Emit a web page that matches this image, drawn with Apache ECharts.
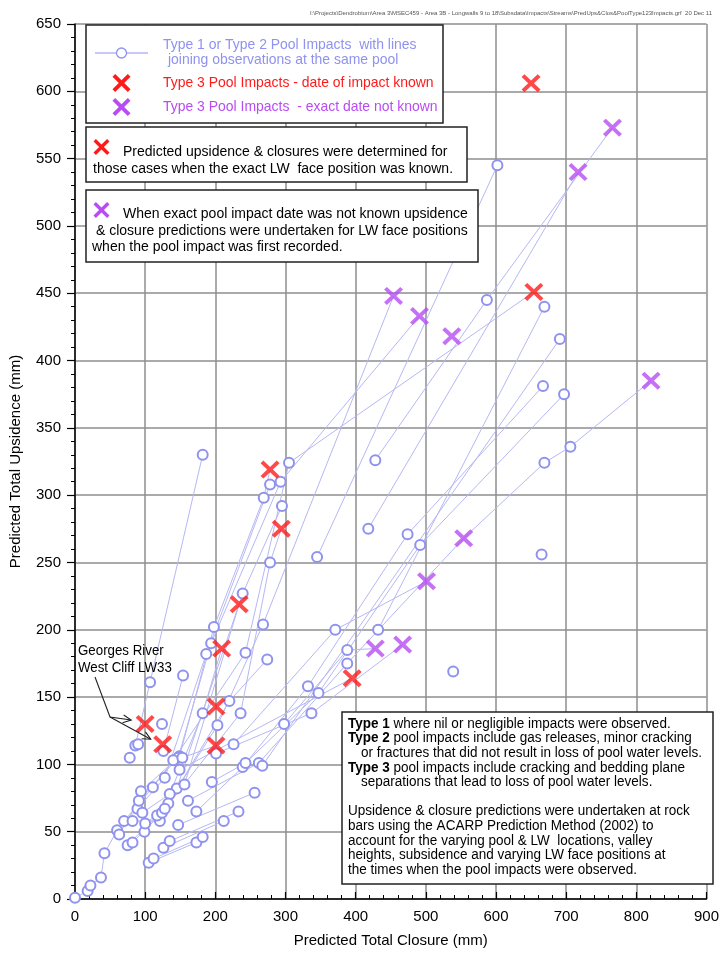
<!DOCTYPE html>
<html><head><meta charset="utf-8">
<script src="https://cdn.jsdelivr.net/npm/echarts@6/dist/echarts.min.js"></script>
<style>html,body{margin:0;padding:0;background:#fff}#c{width:722px;height:953px}</style>
</head><body><div id="c"></div><script>
const FONT = '"Liberation Sans",Arial,sans-serif';

// Type 1 / Type 2 pool observations (closure mm, upsidence mm), one list per pool
const poolLines = [
  [[105,27],[173,42]],
  [[112,30],[182,46]],
  [[126,38],[212,58]],
  [[135,43],[233,65]],
  [[147,55],[256,79]],
  [[0,1],[18,6],[22,10],[37,16],[42,34],[60,51],[89,67],[128,90],[187,182],[278,308]],
  [[94,80],[149,106],[198,202],[269,298],[278,319]],
  [[63,48],[91,73],[147,105],[194,190],[293,310],[491,433]],
  [[70,58],[111,83],[140,103],[243,183],[305,324],[654,451]],
  [[82,58],[121,58],[145,82],[239,227],[295,292]],
  [[75,40],[117,62],[156,85],[234,219]],
  [[82,42],[124,64],[203,129],[268,204],[454,448]],
  [[96,64],[135,78],[182,138],[209,186]],
  [[99,50],[133,71],[220,147],[274,178]],
  [[100,56],[128,67],[236,138],[278,250],[294,275]],
  [[126,110],[154,166]],
  [[86,114],[107,161],[182,330]],
  [[153,105],[201,114]],
  [[173,65],[239,98],[332,158],[474,271],[667,381]],
  [[195,87],[243,101],[347,153],[492,263],[697,375]],
  [[161,73],[262,101],[388,175],[554,268],[669,324],[706,336],[821,385]],
  [[298,130],[388,185],[428,186]],
  [[201,108],[337,138],[467,189]],
  [[226,115],[371,200],[501,236]],
  [[149,96],[395,164]],
  [[432,200],[669,440]],
  [[267,99],[691,416]],
  [[345,254],[602,545]],
  [[418,275],[717,540]],
  [[428,326],[587,445],[766,573]],
  [[539,169]],
  [[665,256]],
  [[78,105]],
  [[90,115]],
  [[124,130]]
];

// Type 3 - date of impact known
const type3KnownClosure   = [650, 654, 278, 294, 234, 209, 201, 201, 100, 125, 395];
const type3KnownUpsidence = [606, 451, 319, 275, 219, 186, 143, 114, 130, 115, 164];
// Type 3 - exact date not known
const type3UnknownClosure   = [766, 717, 454, 491, 537, 821, 554, 501, 428, 467];
const type3UnknownUpsidence = [573, 540, 448, 433, 418, 385, 268, 236, 186, 189];

const xTicks = [0,100,200,300,400,500,600,700,800,900];
const yTicks = [0,50,100,150,200,250,300,350,400,450,500,550,600,650];

const headerText = 'I:\\Projects\\Dendrobium\\Area 3\\MSEC459 - Area 3B - Longwalls 9 to 18\\Subsdata\\Impacts\\Streams\\PredUps&Clos&PoolType123Impacts.grf  20 Dec 11';

const X_PTS = [[0,3],[3,0],[10,7],[17,0],[20,3],[13,10],[20,17],[17,20],[10,13],[3,20],[0,17],[7,10]];
const X_PATH = 'M' + X_PTS.map(p => p.join(',')).join('L') + 'Z';
const RED = '#ff1a1a', PURPLE = '#b84cf2', BLUE = '#8f92ee', BLUELINE = '#b6b8f3';

const xSet = new Set();
type3KnownClosure.forEach((v,i)=>xSet.add(v+','+type3KnownUpsidence[i]));
type3UnknownClosure.forEach((v,i)=>xSet.add(v+','+type3UnknownUpsidence[i]));

const series = poolLines.map(p => ({
  type: 'line', silent: true, animation: false, z: 3,
  data: p.map(pt => xSet.has(pt[0]+','+pt[1]) ? {value: pt, symbol: 'none'} : {value: pt}),
  symbol: 'emptyCircle', symbolSize: 10, showAllSymbol: true,
  lineStyle: {color: BLUELINE, width: 1},
  itemStyle: {color: BLUE, borderColor: BLUE, borderWidth: 1.3}
}));
series.push({
  type: 'scatter', animation: false, z: 5, symbol: 'path://' + X_PATH, symbolSize: [19,18],
  itemStyle: {color: RED},
  data: type3KnownClosure.map((v,i)=>[v, type3KnownUpsidence[i]])
});
series.push({
  type: 'scatter', animation: false, z: 5, symbol: 'path://' + X_PATH, symbolSize: [19,18],
  itemStyle: {color: PURPLE},
  data: type3UnknownClosure.map((v,i)=>[v, type3UnknownUpsidence[i]])
});

const chart = echarts.init(document.getElementById('c'), null, {renderer: 'canvas'});
const axisCommon = {
  axisLine: {show: true, onZero: false, lineStyle: {color: '#000', width: 1.5}},
  splitLine: {show: true, lineStyle: {color: '#8e8e8e', width: 1.5}},
  minorTick: {show: true, splitNumber: 5, length: 4, lineStyle: {color: '#000', width: 1}},
  nameTextStyle: {fontFamily: FONT, fontSize: 15, color: '#000'}
};
chart.setOption({
  backgroundColor: '#fff',
  animation: false,
  grid: {left: 72, right: 10, top: 24, bottom: 52, containLabel: false},
  xAxis: Object.assign({}, axisCommon, {
    type: 'value', min: 0, max: 900, interval: 100,
    name: 'Predicted Total Closure (mm)', nameLocation: 'middle', nameGap: 34,
    axisTick: {show: true, length: 7, inside: true, lineStyle: {color: '#000', width: 1.2}},
    axisLabel: {fontFamily: FONT, fontSize: 15, color: '#000', margin: 10,
      formatter: v => xTicks.includes(v) ? String(v) : ''}
  }),
  yAxis: Object.assign({}, axisCommon, {
    type: 'value', min: 0, max: 650, interval: 50,
    name: 'Predicted Total Upsidence (mm)', nameLocation: 'middle', nameGap: 52,
    axisTick: {show: true, length: 8, lineStyle: {color: '#000', width: 1.2}},
    axisLabel: {fontFamily: FONT, fontSize: 15, color: '#000', margin: 14,
      formatter: v => yTicks.includes(v) ? String(v) : ''}
  }),
  series: series
});

function px(x, y) { return chart.convertToPixel({gridIndex: 0}, [x, y]); }
const ga = px(100, 130), gb = px(125, 115);
const tipA = [ga[0] - 14, ga[1] - 4], tipB = [gb[0] - 12, gb[1] - 5];
const bend = [110, 717];
function arrowHead(tip, from) {
  const ang = Math.atan2(tip[1] - from[1], tip[0] - from[0]);
  const L = 9, w = 0.45;
  return [[tip[0] - L*Math.cos(ang - w), tip[1] - L*Math.sin(ang - w)], tip,
          [tip[0] - L*Math.cos(ang + w), tip[1] - L*Math.sin(ang + w)]];
}
const txt = (x, y, s, o, sx) => ({type: 'text', x: x, y: y, z: 101, scaleX: sx || 1,
  style: Object.assign({text: s, fontFamily: FONT, fontSize: 14, fill: '#000', textVerticalAlign: 'middle'}, o || {})});
const xmark = (cx, cy, color, sz) => ({type: 'polygon', z: 101,
  shape: {points: X_PTS.map(p => [cx - sz/2 + p[0]*sz/20, cy - sz/2 + p[1]*sz/20])}, style: {fill: color}});

const bodyLines = [
  {b: 'Type 1', t: ' where nil or negligible impacts were observed.', x: 348},
  {b: 'Type 2', t: ' pool impacts include gas releases, minor cracking', x: 348},
  {b: '', t: 'or fractures that did not result in loss of pool water levels.', x: 361},
  {b: 'Type 3', t: ' pool impacts include cracking and bedding plane', x: 348},
  {b: '', t: 'separations that lead to loss of pool water levels.', x: 361},
  null,
  {b: '', t: 'Upsidence & closure predictions were undertaken at rock', x: 348},
  {b: '', t: 'bars using the ACARP Prediction Method (2002) to', x: 348},
  {b: '', t: 'account for the varying pool & LW  locations, valley', x: 348},
  {b: '', t: 'heights, subsidence and varying LW face positions at', x: 348},
  {b: '', t: 'the times when the pool impacts were observed.', x: 348}
];
const bodyEls = [];
bodyLines.forEach((l, i) => {
  if (!l) return;
  const y = 724 + i * 14.6;
  bodyEls.push({type: 'text', x: l.x, y: y, z: 101, scaleX: 0.965, style: {
    rich: {b: {fontWeight: 'bold', fontFamily: FONT, fontSize: 14, fill: '#000'},
           n: {fontFamily: FONT, fontSize: 14, fill: '#000'}},
    text: (l.b ? '{b|' + l.b + '}' : '') + '{n|' + l.t + '}', textVerticalAlign: 'middle'}});
});

const LS = 0.93;
chart.setOption({graphic: [
  {type: 'text', x: 712, y: 13, z: 101, style: {text: headerText, fontFamily: FONT, fontSize: 6, fill: '#555', textAlign: 'right', textVerticalAlign: 'middle'}},
  // legend box
  {type: 'rect', z: 100, shape: {x: 86, y: 25, width: 357, height: 98}, style: {fill: '#fff', stroke: '#222', lineWidth: 1.5}},
  {type: 'line', z: 101, shape: {x1: 95, y1: 53, x2: 148, y2: 53}, style: {stroke: BLUE, lineWidth: 1.2}},
  {type: 'circle', z: 101, shape: {cx: 121.5, cy: 53, r: 5}, style: {fill: '#fff', stroke: BLUE, lineWidth: 1.3}},
  txt(163, 45, 'Type 1 or Type 2 Pool Impacts  with lines', {fill: BLUE, fontSize: 15}, LS),
  txt(168, 60, 'joining observations at the same pool', {fill: BLUE, fontSize: 15}, LS),
  xmark(121.5, 83, RED, 18),
  txt(163, 83, 'Type 3 Pool Impacts - date of impact known', {fill: RED, fontSize: 15}, LS),
  xmark(121.5, 107, PURPLE, 18),
  txt(163, 107, 'Type 3 Pool Impacts  - exact date not known', {fill: PURPLE, fontSize: 15}, LS),
  // note box 1
  {type: 'rect', z: 100, shape: {x: 86, y: 127, width: 381, height: 55}, style: {fill: '#fff', stroke: '#222', lineWidth: 1.5}},
  xmark(101.5, 147, RED, 16),
  txt(123, 152, 'Predicted upsidence & closures were determined for'),
  txt(93, 169, 'those cases when the exact LW  face position was known.'),
  // note box 2
  {type: 'rect', z: 100, shape: {x: 86, y: 190, width: 392, height: 72}, style: {fill: '#fff', stroke: '#222', lineWidth: 1.5}},
  xmark(101.5, 210, PURPLE, 16),
  txt(123, 214, 'When exact pool impact date was not known upsidence'),
  txt(96, 231, '& closure predictions were undertaken for LW face positions'),
  txt(92, 247, 'when the pool impact was first recorded.'),
  // bottom-right note box
  {type: 'rect', z: 100, shape: {x: 342, y: 712, width: 371, height: 172}, style: {fill: '#fff', stroke: '#222', lineWidth: 1.5}}
].concat(bodyEls).concat([
  // Georges River annotation
  txt(78, 651, 'Georges River', {fontSize: 14}, 0.95),
  txt(78, 668, 'West Cliff LW33', {fontSize: 14}, 0.95),
  {type: 'polyline', z: 101, shape: {points: [[95, 677], bend, tipA]}, style: {stroke: '#222', lineWidth: 1.1, fill: null}},
  {type: 'polyline', z: 101, shape: {points: [bend, tipB]}, style: {stroke: '#222', lineWidth: 1.1, fill: null}},
  {type: 'polyline', z: 101, shape: {points: arrowHead(tipA, bend)}, style: {stroke: '#222', lineWidth: 1.1, fill: null}},
  {type: 'polyline', z: 101, shape: {points: arrowHead(tipB, bend)}, style: {stroke: '#222', lineWidth: 1.1, fill: null}}
])});
</script></body></html>
